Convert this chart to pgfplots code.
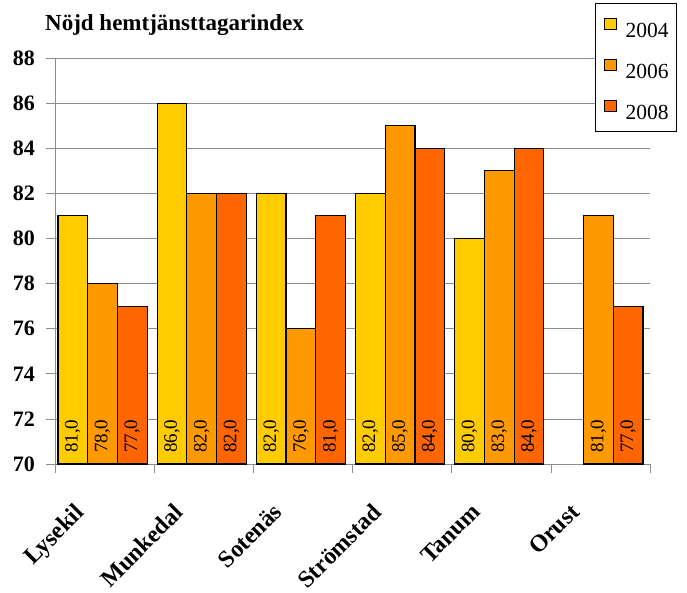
\documentclass[border=0pt]{standalone}
\usepackage{pgfplots}
\pgfplotsset{compat=1.18}
\usepackage{pgfplotstable}
\usepackage{fontspec}
\setmainfont{Liberation Serif}
\definecolor{c04}{HTML}{FFCC00}
\definecolor{c06}{HTML}{FF9900}
\definecolor{c08}{HTML}{FF6600}
\definecolor{axgray}{HTML}{8C8C8C}
\pgfplotstableread{
x y
0 81
1 86
2 82
3 82
4 80
}\tA
\pgfplotstableread{
x y
0 78
1 82
2 76
3 85
4 83
5 81
}\tB
\pgfplotstableread{
x y
0 77
1 82
2 81
3 84
4 84
5 77
}\tC
\begin{document}
\begin{tikzpicture}
\path[use as bounding box] (-55pt,-128pt) rectangle (632pt,464pt);
\begin{axis}[
  at={(0,0)}, anchor=south west,
  scale only axis, width=595pt, height=406pt,
  xmin=-0.5, xmax=5.5, ymin=70, ymax=88,
  ytick={70,72,...,88},
  minor ytick={70,72,...,88},
  xtick={0,1,2,3,4,5},
  xticklabels={Lysekil,Munkedal,Sotenäs,Strömstad,Tanum,Orust},
  minor xtick={-0.5,0.5,...,5.5},
  /pgf/number format/assume math mode=true,
  axis lines*=left,
  axis line style={axgray, -},
  tick style={axgray, line width=0.6pt},
  tick align=outside,
  major tick length=0pt,
  minor tick length=9pt,
  ymajorgrids, grid style={axgray, line width=0.6pt},
  xticklabel style={font=\bfseries\fontsize{24}{24}\selectfont, inner sep=0pt, xshift=-31pt, yshift=-38pt, rotate=45, anchor=north east},
  yticklabel style={font=\bfseries\fontsize{22}{22}\selectfont, inner sep=0pt, anchor=east, xshift=-20pt},
  title={Nöjd hemtjänsttagarindex},
  title style={at={(0,1)}, anchor=base west, inner sep=0pt, xshift=-10pt, yshift=21pt, font=\bfseries\fontsize{23}{23}\selectfont},
  legend style={at={(0.908,1.135)}, anchor=north west, draw=black, line width=0.6pt, fill=white,
    font=\fontsize{21.5}{21.5}\selectfont, row sep=15pt, column sep=9pt, inner xsep=8pt, inner ysep=10pt,
    nodes={inner sep=0pt}},
  legend cell align=left,
  legend image code/.code={\path[draw=none, fill=none] (0pt,0pt) -- (0pt,18pt); \draw[#1, line width=1pt] (0pt,2pt) rectangle (12pt,13pt);},
  clip=true,
]
\addplot[ybar, bar width=0.30, bar shift=-0.32, fill=c04, draw=black, line width=1.2pt] table[x=x,y=y]{\tA};
\addlegendentry{2004}
\addplot[ybar, bar width=0.30, bar shift=-0.02, fill=c06, draw=black, line width=1.2pt] table[x=x,y=y]{\tB};
\addlegendentry{2006}
\addplot[ybar, bar width=0.30, bar shift=0.28, fill=c08, draw=black, line width=1.2pt] table[x=x,y=y]{\tC};
\addlegendentry{2008}
\pgfplotsset{lbl/.style={forget plot, draw=none, mark=none, point meta=explicit,
  nodes near coords={\pgfmathprintnumber[fixed,fixed zerofill,precision=1,use comma]{\pgfplotspointmeta}},
  nodes near coords align={anchor=west},
  every node near coord/.append style={rotate=90, anchor=west, inner xsep=11pt, inner ysep=0pt, font=\fontsize{19}{19}\selectfont, text=black}}}
\addplot[lbl] table[x expr=\thisrow{x}-0.32, y expr=70, meta=y]{\tA};
\addplot[lbl] table[x expr=\thisrow{x}-0.02, y expr=70, meta=y]{\tB};
\addplot[lbl] table[x expr=\thisrow{x}+0.28, y expr=70, meta=y]{\tC};
\end{axis}
\end{tikzpicture}
\end{document}
